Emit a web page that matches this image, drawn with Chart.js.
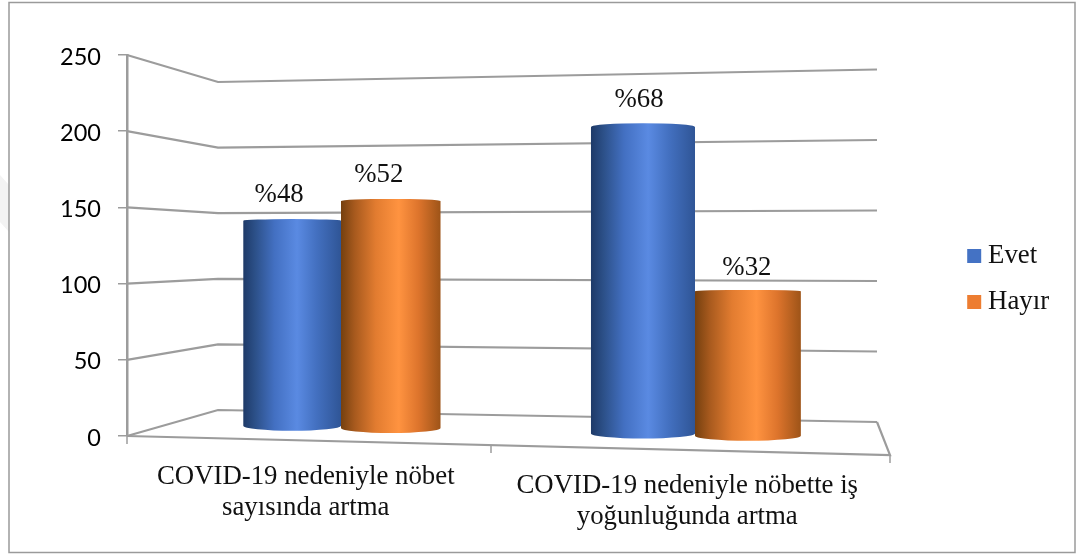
<!DOCTYPE html>
<html>
<head>
<meta charset="utf-8">
<style>
  html, body { margin: 0; padding: 0; background: #fff; }
  canvas { display: block; }
</style>
<script src="https://cdn.jsdelivr.net/npm/chart.js@4/dist/chart.umd.min.js"></script>
</head>
<body>
<canvas id="chart" width="1080" height="554"></canvas>
<script>
const categories = [
  ['COVID-19 nedeniyle nöbet', 'sayısında artma'],
  ['COVID-19 nedeniyle nöbette iş', 'yoğunluğunda artma']
];
const evet = [144, 204];
const hayir = [156, 96];
const evetLabels = ['%48', '%68'];
const hayirLabels = ['%52', '%32'];
const yTicks = [0, 50, 100, 150, 200, 250];

const GRAY = '#9c9c9c';
const SERIF = '"Liberation Serif", "Times New Roman", serif';

// the picture is a tilted 3D column chart, these map the flat scales onto it
const barX = u => 515.25 + 708 * (u - 0.5) + 44 * (u - 0.5) * (u - 0.5);
const barBase = u => 423 + 15.6 * u;
const barUnit = u => 1.3726 + 0.3198 * u - 0.19 * u * u;
const wallLeftY = v => 410 - v * 1.312;
const wallRightY = v => 422 - v * 1.41;
const floorX = u => 127 + 763 * u - 70 * u * (1 - u);
const floorY = x => 436 + (x - 127) * 19 / 763;

const blueStops = [[0, '#1e3a68'], [0.12, '#2c5088'], [0.32, '#4370c2'], [0.55, '#5a8ae2'], [0.75, '#4370c0'], [1, '#2f5596']];
const orangeStops = [[0, '#75400f'], [0.14, '#a85a1e'], [0.35, '#e27c30'], [0.58, '#ff9340'], [0.78, '#dd742c'], [1, '#9e5418']];

function drawCylinder(ctx, el, stops, value) {
  const half = el.width / 2;
  const left = el.x - half;
  const right = el.x + half;
  const topRy = 1 + 3 * Math.pow(value / 204, 4);
  const grad = ctx.createLinearGradient(left, 0, right, 0);
  stops.forEach(s => grad.addColorStop(s[0], s[1]));
  ctx.save();
  ctx.fillStyle = grad;
  ctx.beginPath();
  ctx.moveTo(left, el.y);
  ctx.lineTo(left, el.base);
  ctx.ellipse(el.x, el.base, half, 5, 0, Math.PI, 0, true);
  ctx.lineTo(right, el.y);
  ctx.ellipse(el.x, el.y, half, topRy, 0, 0, Math.PI, true);
  ctx.closePath();
  ctx.fill();
  ctx.restore();
}

const perspective = {
  id: 'perspective',
  afterInit(chart) {
    // keep the plot's right edge fixed whatever the legend text measures
    const fit = chart.legend.fit;
    chart.legend.fit = function () { fit.call(this); this.width = 190; };
  },
  afterLayout(chart) {
    // legend sits in the right margin, away from the plot
    chart.legend.left = 954.5;
    chart.legend.top = 223.5;
  },
  afterDatasetsUpdate(chart) {
    const area = chart.chartArea;
    chart.data.datasets.forEach((ds, d) => {
      chart.getDatasetMeta(d).data.forEach((el, i) => {
        const a = (el.x - el.width / 2 - area.left) / area.width;
        const b = (el.x + el.width / 2 - area.left) / area.width;
        const u = (a + b) / 2;
        const x0 = barX(a);
        const x1 = barX(b);
        el.x = (x0 + x1) / 2;
        el.width = x1 - x0;
        el.base = barBase(u);
        el.y = el.base - ds.data[i] * barUnit(u);
        const stops = d === 0 ? blueStops : orangeStops;
        el.draw = ctx => drawCylinder(ctx, el, stops, ds.data[i]);
      });
    });
  },
  beforeDraw(chart) {
    const ctx = chart.ctx;
    ctx.save();
    ctx.fillStyle = '#fff';
    ctx.fillRect(0, 0, chart.width, chart.height);
    // faint watermark edge left of the frame
    ctx.fillStyle = '#f3f3f3';
    ctx.beginPath();
    ctx.moveTo(0, 175);
    ctx.lineTo(9, 185);
    ctx.lineTo(9, 232);
    ctx.lineTo(0, 222);
    ctx.closePath();
    ctx.fill();
    ctx.strokeStyle = '#9a9a9a';
    ctx.lineWidth = 1.5;
    ctx.strokeRect(9, 2.5, 1066, 550);
    ctx.restore();
    // second label sits lower because the floor is tilted
    const xItems = chart.scales.x.getLabelItems(chart.chartArea);
    if (xItems[1] && !xItems[1].moved) {
      xItems[1].options.translation[1] += 9;
      xItems[1].moved = true;
    }
    chart.scales.y.getLabelItems(chart.chartArea).forEach(item => {
      if (!item.moved) {
        item.options.translation[1] += 2;
        item.moved = true;
      }
    });
  },
  beforeDatasetsDraw(chart) {
    const ctx = chart.ctx;
    const y = chart.scales.y;
    ctx.save();
    ctx.strokeStyle = GRAY;
    ctx.lineWidth = 2.2;
    ctx.lineJoin = 'miter';
    y.ticks.forEach(t => {
      ctx.beginPath();
      ctx.moveTo(127, y.getPixelForValue(t.value));
      ctx.lineTo(218, wallLeftY(t.value));
      ctx.lineTo(877, wallRightY(t.value));
      ctx.stroke();
    });
    // floor edges
    ctx.beginPath();
    ctx.moveTo(127, floorY(127));
    ctx.lineTo(floorX(1), floorY(floorX(1)));
    ctx.lineTo(877, wallRightY(0));
    ctx.stroke();
    ctx.lineWidth = 1.5;
    for (let i = 0; i <= categories.length; i++) {
      const px = floorX(i / categories.length);
      ctx.beginPath();
      ctx.moveTo(px, floorY(px));
      ctx.lineTo(px, floorY(px) + 8);
      ctx.stroke();
    }
    ctx.restore();
  },
  afterDatasetsDraw(chart) {
    const ctx = chart.ctx;
    const texts = [evetLabels, hayirLabels];
    const nudgeX = [[-13, -4], [-12, -1]];
    const nudgeY = [[-26, -27], [-26, -23]];
    ctx.save();
    ctx.fillStyle = '#111';
    ctx.font = '26.8px ' + SERIF;
    ctx.textAlign = 'center';
    ctx.textBaseline = 'middle';
    texts.forEach((list, d) => {
      chart.getDatasetMeta(d).data.forEach((el, i) => {
        ctx.fillText(list[i], el.x + nudgeX[d][i], el.y + nudgeY[d][i]);
      });
    });
    ctx.restore();
  }
};

new Chart(document.getElementById('chart'), {
  type: 'bar',
  data: {
    labels: categories,
    datasets: [
      { label: 'Evet', data: evet, backgroundColor: '#4472C4', clip: false },
      { label: 'Hayır', data: hayir, backgroundColor: '#ED7D31', clip: false }
    ]
  },
  options: {
    responsive: false,
    animation: false,
    layout: { padding: { top: 55, left: 0, right: 0, bottom: 0 } },
    categoryPercentage: 0.575,
    barPercentage: 1,
    scales: {
      x: {
        grid: { display: false },
        border: { display: false },
        afterFit: s => { s.height = 118; },
        ticks: {
          autoSkip: false,
          maxRotation: 0,
          padding: 17,
          labelOffset: -12,
          color: '#111',
          font: { family: SERIF, size: 26.8, lineHeight: '31px' }
        }
      },
      y: {
        min: 0,
        max: 250,
        afterFit: s => { s.width = 127; },
        afterBuildTicks: s => { s.ticks = yTicks.map(v => ({ value: v })); },
        border: { color: GRAY, width: 2.5 },
        grid: { drawOnChartArea: false, tickLength: 9, color: GRAY, lineWidth: 1.5 },
        ticks: {
          padding: 17,
          color: '#000',
          font: { family: 'Lato', size: 23.5 }
        }
      }
    },
    plugins: {
      tooltip: { enabled: false },
      legend: {
        position: 'right',
        align: 'start',
        labels: {
          boxWidth: 1,
          boxHeight: 1,
          padding: 19.2,
          color: '#111',
          font: { family: SERIF, size: 26.8 },
          generateLabels(chart) {
            return Chart.defaults.plugins.legend.labels.generateLabels(chart).map(item => {
              item.lineWidth = 13;
              item.strokeStyle = item.fillStyle;
              return item;
            });
          }
        }
      }
    }
  },
  plugins: [perspective]
});
</script>
</body>
</html>
